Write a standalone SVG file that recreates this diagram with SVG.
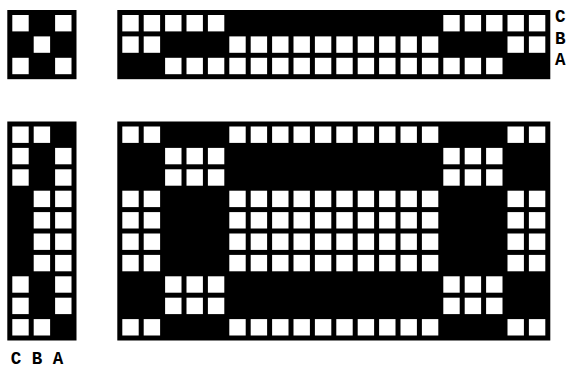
<svg xmlns="http://www.w3.org/2000/svg" xmlns:xlink="http://www.w3.org/1999/xlink" width="585" height="373" viewBox="0 0 585 373">
<style>
.blk{fill:#000}
.w{fill:#fff}
.lbl{font-family:"Liberation Mono","DejaVu Sans Mono",monospace;font-weight:bold;font-size:17.5px;fill:#000}
</style>
<defs>
<rect id="c" width="16.4" height="16.4" class="w"/>
<g id="r2"><use href="#c"/><use href="#c" x="21.4"/></g>
<g id="r3"><use href="#c"/><use href="#c" x="21.4"/><use href="#c" x="42.8"/></g>
<g id="r5"><use href="#r3"/><use href="#r2" x="64.2"/></g>
<g id="r10"><use href="#r5"/><use href="#r5" x="107"/></g>
<g id="rowP"><use href="#r2"/><use href="#r10" x="107"/><use href="#r2" x="385.2"/></g>
<g id="rowQ"><use href="#r3" x="42.8"/><use href="#r3" x="321"/></g>
<g id="rowWBW"><use href="#c"/><use href="#c" x="42.8"/></g>
</defs>
<rect width="585" height="373" fill="#fff"/>

<g id="key-3x3">
<rect class="blk" x="7.3" y="10" width="69.2" height="69.2"/>
<g transform="translate(12.3,15)">
<use href="#rowWBW"/>
<use href="#c" x="21.4" y="21.4"/>
<use href="#rowWBW" y="42.8"/>
</g>
</g>

<g id="top-strip">
<rect class="blk" x="117.3" y="10" width="433" height="69.2"/>
<g transform="translate(122.3,15)">
<use href="#r5"/><use href="#r5" x="321"/>
<use href="#rowP" y="21.4"/>
<g transform="translate(0,42.8)"><use href="#r10" x="42.8"/><use href="#r3" x="256.8"/><use href="#r3" x="321"/></g>
</g>
</g>

<g id="top-labels">
<text class="lbl" x="555" y="22">C</text>
<text class="lbl" x="555" y="43.5">B</text>
<text class="lbl" x="555" y="65">A</text>
</g>

<g id="left-strip">
<rect class="blk" x="7.3" y="121.5" width="69.2" height="219"/>
<g transform="translate(12.3,126.5)">
<use href="#r2"/>
<use href="#rowWBW" y="21.4"/>
<use href="#rowWBW" y="42.8"/>
<use href="#r2" x="21.4" y="64.2"/>
<use href="#r2" x="21.4" y="85.6"/>
<use href="#r2" x="21.4" y="107"/>
<use href="#r2" x="21.4" y="128.4"/>
<use href="#rowWBW" y="149.8"/>
<use href="#rowWBW" y="171.2"/>
<use href="#r2" y="192.6"/>
</g>
</g>

<g id="left-labels">
<text class="lbl" x="10.7" y="364">C B A</text>
</g>

<g id="main-grid">
<rect class="blk" x="117.3" y="121.5" width="433" height="219"/>
<g transform="translate(122.3,126.5)">
<use href="#rowP"/>
<use href="#rowQ" y="21.4"/>
<use href="#rowQ" y="42.8"/>
<use href="#rowP" y="64.2"/>
<use href="#rowP" y="85.6"/>
<use href="#rowP" y="107"/>
<use href="#rowP" y="128.4"/>
<use href="#rowQ" y="149.8"/>
<use href="#rowQ" y="171.2"/>
<use href="#rowP" y="192.6"/>
</g>
</g>
</svg>
